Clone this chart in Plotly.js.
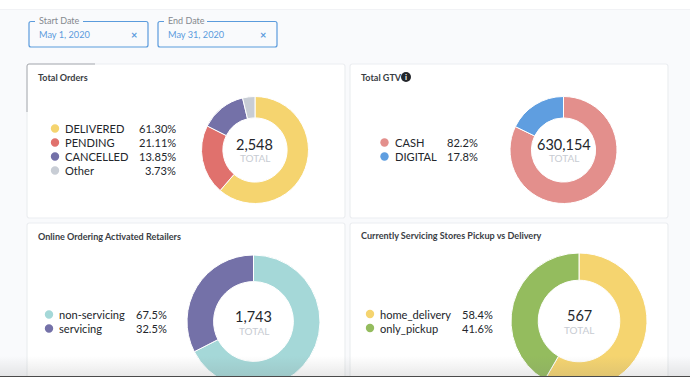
<!DOCTYPE html>
<html><head><meta charset="utf-8">
<script src="https://cdn.plot.ly/plotly-3.0.1.min.js"></script>
<style>
html,body{margin:0;padding:0;width:690px;height:377px;overflow:hidden;background:#f9fafc}
#wrap{position:relative;width:690px;height:377px;overflow:hidden}
#chart{position:absolute;left:0;top:0;width:690px;height:460px}
#fade{position:absolute;left:0;top:356px;width:690px;height:20px;background:linear-gradient(rgba(120,120,120,0),rgba(120,120,120,.16));pointer-events:none}
#edge{position:absolute;left:0;top:376px;width:690px;height:1px;background:#4a4a4a}
</style></head><body>
<div id="wrap"><div id="chart"></div><div id="fade"></div><div id="edge"></div></div>
<script>
const ordersLabels=['DELIVERED','PENDING','CANCELLED','Other'];
const ordersValues=[61.30,21.11,13.85,3.73];
const ordersText=['61.30%','21.11%','13.85%','3.73%'];
const ordersColors=['#f5d46f','#e0716d','#7471a8','#c8cdd5'];
const gtvLabels=['CASH','DIGITAL'];
const gtvValues=[82.2,17.8];
const gtvText=['82.2%','17.8%'];
const gtvColors=['#e38f8c','#5f9ee0'];
const onlineLabels=['non-servicing','servicing'];
const onlineValues=[67.5,32.5];
const onlineText=['67.5%','32.5%'];
const onlineColors=['#a5d8d8','#7471a8'];
const storesLabels=['home_delivery','only_pickup'];
const storesValues=[58.4,41.6];
const storesText=['58.4%','41.6%'];
const storesColors=['#f5d46f','#94bc5e'];

const W=690,H=460;
const fx=x=>x/W, fy=y=>1-y/H;
const font='Lato, "Open Sans", sans-serif';
const panels=[
 {title:'Total Orders',labels:ordersLabels,values:ordersValues,text:ordersText,colors:ordersColors,total:'2,548',
  card:[27,64,345,218],tx:37,ty:77.5,cx:255,cy:150,r:53.5,hole:0.6,dot:55,lab:64,right:176.5,row:128.5,numY:144,totY:158.5},
 {title:'Total GTV',labels:gtvLabels,values:gtvValues,text:gtvText,colors:gtvColors,total:'630,154',
  card:[350,64,668,218],tx:360,ty:77.5,cx:563.5,cy:150,r:53.5,hole:0.6,dot:384.5,lab:393.5,right:478.5,row:142.5,numY:144,totY:158.5},
 {title:'Online Ordering Activated Retailers',labels:onlineLabels,values:onlineValues,text:onlineText,colors:onlineColors,total:'1,743',
  card:[27,223,345,440],tx:37,ty:236,cx:253.5,cy:321.5,r:66.5,hole:0.6,dot:49,lab:58,right:167.5,row:314.5,numY:316,totY:330.5},
 {title:'Currently Servicing Stores Pickup vs Delivery',labels:storesLabels,values:storesValues,text:storesText,colors:storesColors,total:'567',
  card:[350,223,668,440],tx:360,ty:235.5,cx:579,cy:321,r:68,hole:0.6,dot:370,lab:378.5,right:493.5,row:314,numY:315.5,totY:330}
];
const ann=(text,x,y,size,color,anchor,extra)=>Object.assign({text,x:fx(x),y:fy(y),xref:'paper',yref:'paper',showarrow:false,
  xanchor:anchor||'left',yanchor:'middle',font:{family:font,size,color},borderpad:0},extra||{});
const rr=(x0,y0,x1,y1,r)=>`M${fx(x0+r)},${fy(y0)}L${fx(x1-r)},${fy(y0)}Q${fx(x1)},${fy(y0)} ${fx(x1)},${fy(y0+r)}L${fx(x1)},${fy(y1-r)}Q${fx(x1)},${fy(y1)} ${fx(x1-r)},${fy(y1)}L${fx(x0+r)},${fy(y1)}Q${fx(x0)},${fy(y1)} ${fx(x0)},${fy(y1-r)}L${fx(x0)},${fy(y0+r)}Q${fx(x0)},${fy(y0)} ${fx(x0+r)},${fy(y0)}Z`;
const box=(x0,y0,x1,y1,fill,line,lw)=>({type:'rect',xref:'paper',yref:'paper',x0:fx(x0),x1:fx(x1),y0:fy(y1),y1:fy(y0),fillcolor:fill,line:{color:line||fill,width:lw||0},layer:'below'});
const circ=(cx,cy,r,fill)=>({type:'circle',xref:'paper',yref:'paper',x0:fx(cx-r),x1:fx(cx+r),y0:fy(cy+r),y1:fy(cy-r),fillcolor:fill,line:{width:0},layer:'above'});
const shapes=[box(0,0,690,9.5,'#ffffff')],annotations=[],traces=[];
shapes.push(box(0,9,690,10,'#f1f2f5'));
panels.forEach(p=>{
  const [a,b,c,d]=p.card;
  shapes.push({type:'path',path:rr(a,b,c,d,2.5),xref:'paper',yref:'paper',fillcolor:'#ffffff',line:{color:'#eceef1',width:1.2},layer:'below'});
  annotations.push(ann('<b>'+p.title+'</b>',p.tx,p.ty,9.05,'#3a3d44'));
  traces.push({type:'pie',labels:p.labels,values:p.values,sort:false,direction:'clockwise',rotation:0,hole:p.hole,
    textinfo:'none',hoverinfo:'label+percent',showlegend:false,marker:{colors:p.colors,line:{color:'#ffffff',width:1}},
    domain:{x:[fx(p.cx-p.r),fx(p.cx+p.r)],y:[fy(p.cy+p.r),fy(p.cy-p.r)]}});
  annotations.push(ann(p.total,p.cx,p.numY,14.5,'#23262b','center'));
  annotations.push(ann('TOTAL',p.cx,p.totY,10,'#c7cbd2','center'));
  p.labels.forEach((l,i)=>{
    const y=p.row+i*14;
    shapes.push(circ(p.dot,y,4.2,p.colors[i]));
    annotations.push(ann(l,p.lab,y,11.1,'#23262b'));
    annotations.push(ann(p.text[i],p.right,y,11.1,'#23262b','right'));
  });
});
// date filters
const dates=[{label:'Start Date',value:'May 1, 2020',x0:29,x1:148,gap:54},{label:'End Date',value:'May 31, 2020',x0:158,x1:277,gap:49}];
dates.forEach(f=>{
  shapes.push({type:'path',path:rr(f.x0,21.5,f.x1,47,2),xref:'paper',yref:'paper',fillcolor:'rgba(0,0,0,0)',line:{color:'#5b9bdc',width:1.2},layer:'below'});
  shapes.push(box(f.x0+6,20,f.x0+f.gap,23,'#f9fafc'));
  annotations.push(ann(f.label,f.x0+9,20.5,9,'#85898f'));
  annotations.push(ann(f.value,f.x0+9,34.5,9.2,'#5b9bdc'));
  annotations.push(ann('<b>×</b>',f.x1-14,34.5,11,'#5b9bdc','center'));
});
// info icon beside Total GTV
shapes.push(circ(406,77,5,'#23262b'));
annotations.push(ann('<b>i</b>',406,77,8,'#ffffff','center'));
// worn grey edge on first card
shapes.push({type:'path',path:`M${fx(27)},${fy(112)}L${fx(27)},${fy(66)}Q${fx(27)},${fy(64)} ${fx(29)},${fy(64)}L${fx(95)},${fy(64)}`,xref:'paper',yref:'paper',line:{color:'#a9abb0',width:1},fillcolor:'rgba(0,0,0,0)',layer:'above'});

Plotly.newPlot('chart',traces,{width:W,height:H,margin:{l:0,r:0,t:0,b:0},paper_bgcolor:'#f9fafc',plot_bgcolor:'rgba(0,0,0,0)',
  shapes,annotations,font:{family:font},showlegend:false},{displayModeBar:false,staticPlot:true});
</script></body></html>
